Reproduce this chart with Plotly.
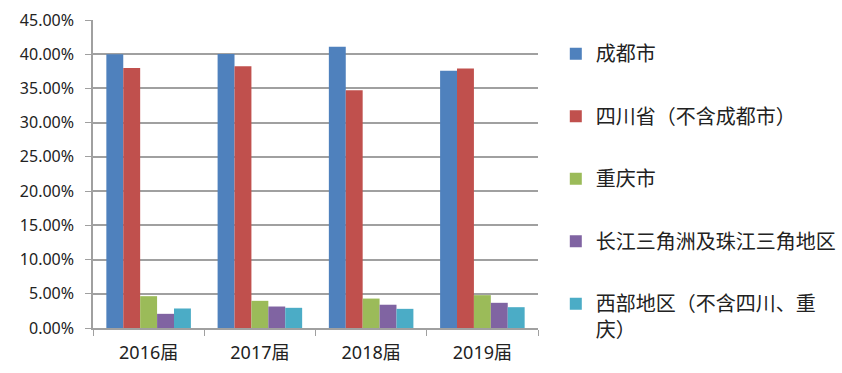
import plotly.graph_objects as go

categories = ["2016届", "2017届", "2018届", "2019届"]
series_names = ["成都市", "四川省（不含成都市）", "重庆市", "长江三角洲及珠江三角地区", "西部地区（不含四川、重<br>庆）"]
chengdu = [40.0, 40.05, 41.1, 37.6]
sichuan = [38.0, 38.25, 34.75, 37.9]
chongqing = [4.65, 3.97, 4.3, 4.8]
delta = [2.07, 3.14, 3.4, 3.68]
west = [2.85, 2.95, 2.8, 3.04]
y_ticks = [0, 5, 10, 15, 20, 25, 30, 35, 40, 45]
y_tick_labels = [f"{v:.2f}%" for v in y_ticks]

colors = ["#4F81BD", "#C0504D", "#9BBB59", "#8064A2", "#4BACC6"]
all_series = [chengdu, sichuan, chongqing, delta, west]

fig = go.Figure()
for i, (name, vals) in enumerate(zip(series_names, all_series)):
    fig.add_trace(go.Bar(
        x=categories, y=vals, name=name, legendgroup=f"g{i}",
        marker=dict(color=colors[i], line=dict(width=0)),
    ))

fig.update_layout(
    width=842, height=373,
    margin=dict(l=93, r=304, t=20, b=45, autoexpand=False),
    barmode="group", bargap=0.24, bargroupgap=0,
    plot_bgcolor="white", paper_bgcolor="white",
    font=dict(family="Noto Sans, Noto Sans CJK SC", size=17, color="#222222"),
    legend=dict(
        x=1.04, y=0.954, xanchor="left", yanchor="top",
        font=dict(family="Noto Sans CJK SC", size=20, color="#222222"),
        tracegroupgap=33.5, valign="top", itemwidth=30,
        bgcolor="rgba(0,0,0,0)", maxheight=360,
    ),
    xaxis=dict(
        automargin=False,
        showline=True, linecolor="#A0A0A0", linewidth=1.5,
        ticks="outside", tickson="boundaries", ticklen=6, tickcolor="#A0A0A0",
        tickfont=dict(family="Noto Sans, Noto Sans CJK SC", size=18),
        ticklabelstandoff=8,
        showgrid=False,
    ),
    yaxis=dict(
        automargin=False,
        range=[0, 45], tickvals=y_ticks, ticktext=y_tick_labels,
        showline=True, linecolor="#A0A0A0", linewidth=1.5,
        ticks="outside", ticklen=6, tickcolor="#A0A0A0",
        ticklabelstandoff=8,
        showgrid=True, gridcolor="#A0A0A0", gridwidth=1.5,
        zeroline=False,
        tickfont=dict(family="Noto Sans", size=16),
    ),
)

fig.write_html("out.html", config={"displayModeBar": False},
               post_script="document.body.style.margin='0';")
